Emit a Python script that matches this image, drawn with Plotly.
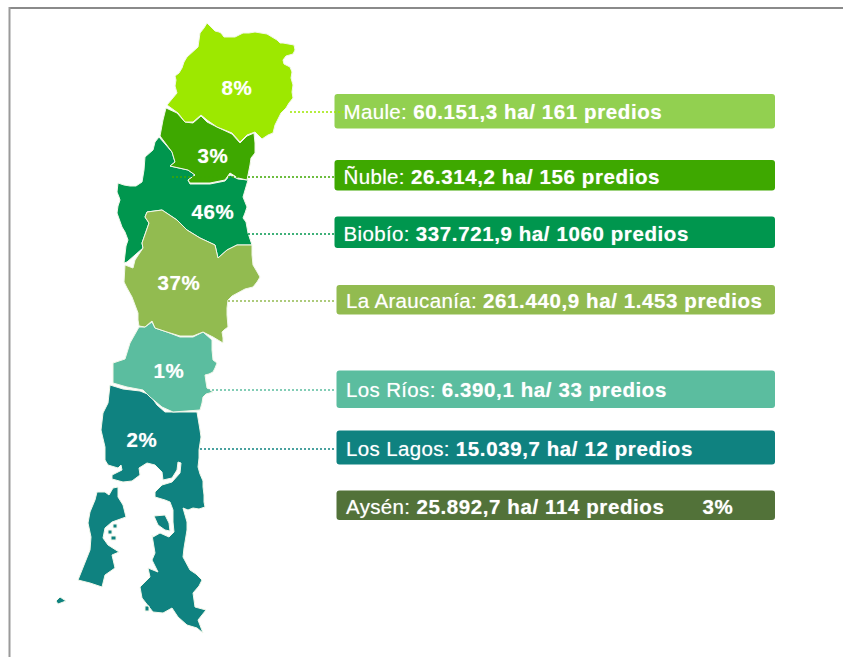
import plotly.graph_objects as go

# Region data, as printed on the chart
regions = ["Maule", "Ñuble", "Biobío", "La Araucanía", "Los Ríos", "Los Lagos", "Aysén"]
hectares = ["60.151,3", "26.314,2", "337.721,9", "261.440,9", "6.390,1", "15.039,7", "25.892,7"]
predios = ["161", "156", "1060", "1.453", "33", "12", "114"]
shares = ["8%", "3%", "46%", "37%", "1%", "2%", "3%"]

map_colors = ["#9DE800", "#3EA800", "#00964E", "#92BB50", "#5BBD9F", "#0F8280", "#527239"]
box_colors = ["#92D050", "#3EA800", "#00964E", "#92BB50", "#5BBD9F", "#0F8280", "#527239"]

# Map outlines (canvas pixels)
maule_xy = [(207,23),(211,27),(215,31),(219,32),(221,33),(224,37),(230,37),(235,37),(239,35),(243,33),(249,33),(255,32),(261,33),(267,34),(272,37),(277,40),(280,43),(283,43),(294,45),(295,50),(293,54),(286,56),(283,60),(284,64),(290,67),(292,72),(291,78),(293,85),(292,92),(293,98),(289,103),(286,108),(281,113),(277,120),(275,125),(273,133),(268,135),(262,139),(255,132),(247,135),(240,142),(232,133),(217,127),(207,120),(201,115),(193,122),(185,122),(178,113),(167,105),(172,99),(177,93),(175,86),(176,80),(175,76),(179,73),(182,68),(184,62),(187,57),(192,52),(198,47),(199,40),(200,33),(204,28)]
nuble_xy = [(166,108),(177,113),(185,122),(193,123),(201,116),(207,122),(217,127),(232,134),(240,143),(247,136),(254,133),(255,143),(255,153),(251,158),(250,165),(248,173),(247,180),(238,178),(230,173),(225,180),(210,183),(190,183),(188,180),(195,175),(188,170),(170,166),(175,162),(172,152),(160,136),(163,120)]
biobio_xy = [(159,137),(172,152),(175,162),(170,166),(188,170),(195,175),(188,180),(190,184),(210,184),(225,181),(230,175),(238,179),(248,180),(246,186),(244,192),(243,197),(245,202),(247,207),(245,213),(243,218),(246,222),(247,228),(248,233),(250,239),(252,245),(237,245),(227,250),(218,258),(215,245),(200,238),(187,230),(177,220),(162,210),(147,212),(145,217),(149,223),(142,243),(143,248),(127,262),(124,263),(125,253),(126,246),(128,240),(125,232),(122,227),(119,218),(117,213),(118,206),(120,200),(119,197),(117,192),(118,183),(124,185),(130,186),(136,186),(142,182),(144,170),(145,157),(150,153),(153,150),(154,146),(155,142)]
araucania_xy = [(147,212),(162,210),(177,220),(187,230),(200,238),(215,245),(218,258),(227,250),(237,245),(252,245),(252,255),(253,265),(256,270),(260,277),(257,282),(253,287),(245,289),(237,293),(232,296),(228,300),(227,308),(227,315),(228,322),(228,327),(224,330),(222,332),(223,338),(223,343),(213,337),(203,332),(193,336),(180,336),(167,332),(155,328),(152,321),(145,327),(139,326),(138,320),(138,313),(135,305),(132,297),(127,288),(124,282),(125,265),(133,268),(135,260),(143,248),(142,243),(149,223),(145,217)]
rios_xy = [(139,327),(145,327),(152,322),(155,328),(167,332),(180,337),(193,337),(203,332),(212,340),(212,350),(213,360),(217,363),(215,368),(213,372),(209,374),(205,375),(206,382),(207,388),(213,392),(206,394),(203,397),(202,403),(200,410),(173,412),(162,407),(150,397),(143,390),(127,387),(113,383),(113,363),(125,359),(130,343)]
lagos_main_xy = [(110,385),(123,389),(140,391),(150,395),(157,405),(165,412),(180,412),(197,412),(198,418),(199,423),(200,430),(201,437),(200,444),(199,450),(199,458),(198,467),(200,474),(203,481),(203,487),(204,495),(204,502),(205,507),(199,509),(193,508),(188,510),(183,508),(185,515),(187,522),(187,530),(185,540),(184,548),(183,557),(187,564),(190,570),(196,574),(202,580),(199,586),(193,593),(194,600),(195,607),(206,610),(198,620),(203,633),(197,628),(187,625),(178,617),(172,608),(163,613),(153,612),(142,598),(140,587),(150,577),(148,568),(158,572),(152,560),(155,553),(152,535),(153,537),(160,533),(169,537),(174,532),(173,522),(173,510),(170,502),(165,500),(155,497),(155,492),(162,485),(172,482),(180,473),(181,463),(178,462),(177,470),(172,478),(163,480),(162,472),(155,465),(147,463),(139,468),(140,475),(132,481),(123,482),(112,479),(112,475),(122,470),(121,465),(118,468),(108,465),(105,460),(105,447),(101,430),(103,413),(108,403)]
lagos_inner_xy = [(154,516),(165,515),(169,523),(170,531),(165,530),(158,525)]
chiloe_xy = [(97,492),(105,492),(109,495),(113,488),(118,487),(118,497),(123,505),(126,517),(112,522),(105,528),(103,538),(108,545),(119,552),(112,555),(115,568),(105,575),(102,587),(90,583),(78,580),(83,567),(90,550),(91,537),(88,523),(90,512),(95,500)]
islet_west_xy = [(56,601),(60,597),(66,601),(58,604)]
islet_a_xy = [(113,524),(117,524),(117,528),(113,528)]
islet_b_xy = [(108,530),(112,530),(112,534),(108,534)]
islet_c_xy = [(111,536),(116,536),(116,540),(111,540)]
islet_d_xy = [(145,606),(149,606),(149,611),(145,611)]
lagos_parts = [lagos_main_xy, lagos_inner_xy, chiloe_xy, islet_west_xy, islet_a_xy, islet_b_xy, islet_c_xy, islet_d_xy]

# Layout of the label column (canvas pixels)
box_left = [334.5, 334.5, 334.5, 336.5, 336.5, 336.5, 336.5]
box_top = [94, 160, 216.5, 285, 370.5, 430.5, 490.5]
box_bottom = [128.5, 190.5, 248, 314.5, 408, 464.5, 520]
box_right = 775
text_x = [343.5, 343.5, 343.5, 346, 346, 346, 346]
text_y = [113.5, 178.5, 236, 302.5, 391.5, 450.5, 508.5]
share_x = [237, 213, 213, 179, 169, 142, 718]
share_y = [89.5, 157.5, 213.5, 284.5, 372.5, 441.5, 508.5]
leader_x0 = [290, 172, 248, 228, 208, 200]
leader_x1 = [360, 334, 334, 336, 336, 336]
leader_y = [112, 177, 234, 301, 390, 449]


def rounded(x0, y0, x1, y1, r=3):
    return (f"M{x0+r},{y0} L{x1-r},{y0} Q{x1},{y0} {x1},{y0+r} L{x1},{y1-r} Q{x1},{y1} {x1-r},{y1} "
            f"L{x0+r},{y1} Q{x0},{y1} {x0},{y1-r} L{x0},{y0+r} Q{x0},{y0} {x0+r},{y0} Z")


def unpack(parts):
    xs, ys = [], []
    for part in parts:
        closed = part + part[:1]
        xs += [p[0] for p in closed] + [None]
        ys += [p[1] for p in closed] + [None]
    return xs, ys


fig = go.Figure()

for parts, color in [
    (lagos_parts, map_colors[5]),
    ([rios_xy], map_colors[4]),
    ([biobio_xy], map_colors[2]),
    ([araucania_xy], map_colors[3]),
    ([nuble_xy], map_colors[1]),
    ([maule_xy], map_colors[0]),
]:
    xs, ys = unpack(parts)
    fig.add_trace(go.Scatter(x=xs, y=ys, mode="lines", fill="toself", fillcolor=color,
                             line=dict(color="#F2F7EA", width=1), hoverinfo="skip", showlegend=False))

shapes = [
    dict(type="line", x0=9.5, x1=843, y0=8, y1=8, line=dict(color="#8A8A8A", width=2)),
    dict(type="line", x0=9.5, x1=9.5, y0=7, y1=657, line=dict(color="#9A9A9A", width=2)),
]
for i in range(7):
    shapes.append(dict(type="path", path=rounded(box_left[i], box_top[i], box_right, box_bottom[i]),
                       fillcolor=box_colors[i], line=dict(width=0), layer="below"))

for i in range(6):
    fig.add_trace(go.Scatter(x=[leader_x0[i], leader_x1[i]], y=[leader_y[i], leader_y[i]], mode="lines",
                             line=dict(color=map_colors[i], width=1.5, dash="2px,2px"),
                             hoverinfo="skip", showlegend=False))

soft = "0 0 1px rgba(255,255,255,0.55)"
labels = [f"{r}: <b>{h} ha/ {p} predios</b>" for r, h, p in zip(regions, hectares, predios)]
fig.add_trace(go.Scatter(x=text_x, y=text_y, mode="text", text=labels, textposition="middle right",
                         textfont=dict(family="Liberation Sans", size=20.5, color="#FFFFFF", shadow=soft),
                         hoverinfo="skip", showlegend=False))
fig.add_trace(go.Scatter(x=share_x, y=share_y, mode="text", text=[f"<b>{s}</b>" for s in shares],
                         textposition="middle center",
                         textfont=dict(family="Liberation Sans", size=20.5, color="#FFFFFF", shadow=soft),
                         hoverinfo="skip", showlegend=False))

fig.update_layout(
    width=843, height=657, autosize=False,
    margin=dict(l=0, r=0, t=0, b=0),
    paper_bgcolor="#FFFFFF", plot_bgcolor="#FFFFFF",
    xaxis=dict(range=[0, 843], visible=False, fixedrange=True),
    yaxis=dict(range=[657, 0], visible=False, fixedrange=True),
    shapes=shapes,
    showlegend=False,
)
page_fix = """
document.documentElement.style.overflow = 'hidden';
document.body.style.margin = '0';
document.querySelectorAll('.textpoint text').forEach(function (t) { t.style.letterSpacing = '0.35px'; });
document.querySelectorAll('.textpoint tspan').forEach(function (t) {
    if ((t.getAttribute('style') || '').indexOf('bold') >= 0) { t.style.letterSpacing = '0.6px'; }
});
document.querySelectorAll('.cartesianlayer .plot, .layer-below .shapelayer').forEach(function (g) {
    g.style.filter = 'blur(0.55px)';
});
"""
fig.write_html("out.html", config={"displayModeBar": False}, post_script=page_fix)
